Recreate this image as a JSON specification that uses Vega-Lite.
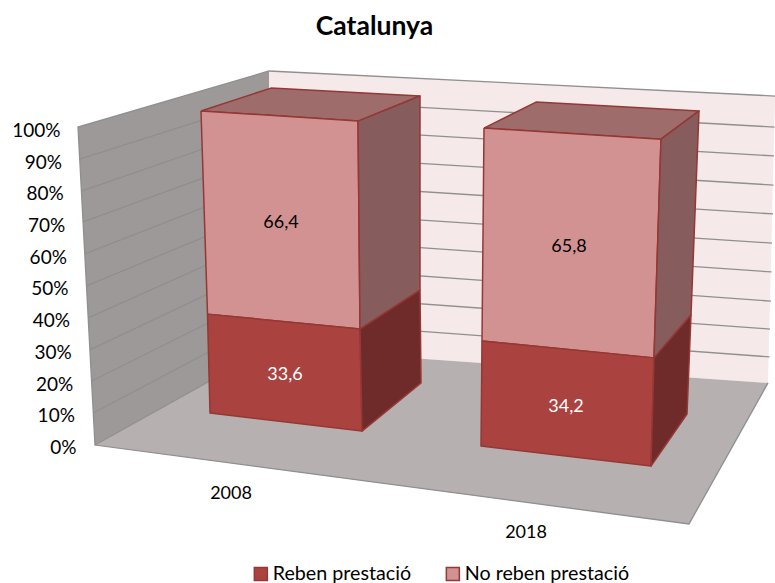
{
"$schema":"https://vega.github.io/schema/vega-lite/v6.json",
"width":775,"height":583,"padding":0,"autosize":{"type":"none"},
"background":"white",
"config":{"view":{"stroke":null},"font":"Lato"},
"title":{"text":"Catalunya","anchor":"middle","frame":"group","offset":-40,"dx":-13,"font":"Lato","fontSize":26.5,"fontWeight":"bold","color":"black"},
"datasets":{
"walls":[
{"poly":"esq","part":"Paret esquerra","n":1,"x":78,"y":100.6},{"poly":"esq","part":"Paret esquerra","n":2,"x":269,"y":118.3},{"poly":"esq","part":"Paret esquerra","n":3,"x":269,"y":30.9},{"poly":"esq","part":"Paret esquerra","n":4,"x":95,"y":0.3},
{"poly":"fons","part":"Paret fons","n":1,"x":269,"y":118.3},{"poly":"fons","part":"Paret fons","n":2,"x":775,"y":110.4},{"poly":"fons","part":"Paret fons","n":3,"x":768,"y":19.9},{"poly":"fons","part":"Paret fons","n":4,"x":269,"y":30.9},
{"poly":"terra","part":"Terra","n":1,"x":95,"y":0.3},{"poly":"terra","part":"Terra","n":2,"x":269,"y":30.9},{"poly":"terra","part":"Terra","n":3,"x":768,"y":19.9},{"poly":"terra","part":"Terra","n":4,"x":689,"y":-24.6}
],
"grid":[
{"l":"e10","n":1,"x":93.3,"y":10.4},{"l":"e10","n":2,"x":269,"y":39.7},{"l":"e20","n":1,"x":91.6,"y":20.5},{"l":"e20","n":2,"x":269,"y":48.3},
{"l":"e30","n":1,"x":89.9,"y":30.3},{"l":"e30","n":2,"x":269,"y":57.1},{"l":"e40","n":1,"x":88.2,"y":40.4},{"l":"e40","n":2,"x":269,"y":65.9},
{"l":"e50","n":1,"x":86.5,"y":50.5},{"l":"e50","n":2,"x":269,"y":74.4},{"l":"e60","n":1,"x":84.8,"y":60.6},{"l":"e60","n":2,"x":269,"y":83.3},
{"l":"e70","n":1,"x":83.1,"y":70.7},{"l":"e70","n":2,"x":269,"y":92.1},{"l":"e80","n":1,"x":81.4,"y":80.4},{"l":"e80","n":2,"x":269,"y":100.9},
{"l":"e90","n":1,"x":79.7,"y":90.5},{"l":"e90","n":2,"x":269,"y":109.5},
{"l":"f10","n":1,"x":269,"y":39.7},{"l":"f10","n":2,"x":769.5,"y":28.1},{"l":"f20","n":1,"x":269,"y":48.3},{"l":"f20","n":2,"x":770,"y":36.9},
{"l":"f30","n":1,"x":269,"y":57.1},{"l":"f30","n":2,"x":771,"y":45.7},{"l":"f40","n":1,"x":269,"y":65.9},{"l":"f40","n":2,"x":771.5,"y":54.9},
{"l":"f50","n":1,"x":269,"y":74.4},{"l":"f50","n":2,"x":772,"y":64},{"l":"f60","n":1,"x":269,"y":83.3},{"l":"f60","n":2,"x":773,"y":73.2},
{"l":"f70","n":1,"x":269,"y":92.1},{"l":"f70","n":2,"x":773.5,"y":82.3},{"l":"f80","n":1,"x":269,"y":100.9},{"l":"f80","n":2,"x":774,"y":91.5},
{"l":"f90","n":1,"x":269,"y":109.5},{"l":"f90","n":2,"x":774.5,"y":100.6},
{"l":"v1","n":1,"x":269,"y":118.3},{"l":"v1","n":2,"x":78,"y":100.6},{"l":"v1","n":3,"x":95,"y":0.3},{"l":"v1","n":4,"x":689,"y":-24.6},{"l":"v1","n":5,"x":768,"y":19.9},
{"l":"v2","n":1,"x":269,"y":118.3},{"l":"v2","n":2,"x":775,"y":110.4},
{"l":"v3","n":1,"x":95,"y":0.3},{"l":"v3","n":2,"x":269,"y":30.9}
],
"bars":[
{"poly":"a1","part":"No reben sostre","n":1,"x":201,"y":105.7},{"poly":"a1","part":"No reben sostre","n":2,"x":358,"y":102.5},{"poly":"a1","part":"No reben sostre","n":3,"x":420,"y":110.4},{"poly":"a1","part":"No reben sostre","n":4,"x":271,"y":112.9},{"poly":"a1","part":"No reben sostre","n":5,"x":201,"y":105.7},
{"poly":"a2","part":"No reben prestació","n":1,"x":201,"y":105.7},{"poly":"a2","part":"No reben prestació","n":2,"x":358,"y":102.5},{"poly":"a2","part":"No reben prestació","n":3,"x":360,"y":36.9},{"poly":"a2","part":"No reben prestació","n":4,"x":207.5,"y":41.6},{"poly":"a2","part":"No reben prestació","n":5,"x":201,"y":105.7},
{"poly":"a3","part":"No reben lateral","n":1,"x":358,"y":102.5},{"poly":"a3","part":"No reben lateral","n":2,"x":420,"y":110.4},{"poly":"a3","part":"No reben lateral","n":3,"x":420,"y":49.2},{"poly":"a3","part":"No reben lateral","n":4,"x":360,"y":36.9},{"poly":"a3","part":"No reben lateral","n":5,"x":358,"y":102.5},
{"poly":"a4","part":"Reben prestació","n":1,"x":207.5,"y":41.6},{"poly":"a4","part":"Reben prestació","n":2,"x":360,"y":36.9},{"poly":"a4","part":"Reben prestació","n":3,"x":362,"y":4.7},{"poly":"a4","part":"Reben prestació","n":4,"x":210,"y":10.4},{"poly":"a4","part":"Reben prestació","n":5,"x":207.5,"y":41.6},
{"poly":"a5","part":"Reben lateral","n":1,"x":360,"y":36.9},{"poly":"a5","part":"Reben lateral","n":2,"x":420,"y":49.2},{"poly":"a5","part":"Reben lateral","n":3,"x":421,"y":19.9},{"poly":"a5","part":"Reben lateral","n":4,"x":362,"y":4.7},{"poly":"a5","part":"Reben lateral","n":5,"x":360,"y":36.9},
{"poly":"b1","part":"No reben sostre","n":1,"x":484,"y":100.3},{"poly":"b1","part":"No reben sostre","n":2,"x":661,"y":96.8},{"poly":"b1","part":"No reben sostre","n":3,"x":699,"y":105.7},{"poly":"b1","part":"No reben sostre","n":4,"x":536,"y":108.5},{"poly":"b1","part":"No reben sostre","n":5,"x":484,"y":100.3},
{"poly":"b2","part":"No reben prestació","n":1,"x":484,"y":100.3},{"poly":"b2","part":"No reben prestació","n":2,"x":661,"y":96.8},{"poly":"b2","part":"No reben prestació","n":3,"x":654,"y":27.8},{"poly":"b2","part":"No reben prestació","n":4,"x":482,"y":33.1},{"poly":"b2","part":"No reben prestació","n":5,"x":484,"y":100.3},
{"poly":"b3","part":"No reben lateral","n":1,"x":661,"y":96.8},{"poly":"b3","part":"No reben lateral","n":2,"x":699,"y":105.7},{"poly":"b3","part":"No reben lateral","n":3,"x":691,"y":41.3},{"poly":"b3","part":"No reben lateral","n":4,"x":654,"y":27.8},{"poly":"b3","part":"No reben lateral","n":5,"x":661,"y":96.8},
{"poly":"b4","part":"Reben prestació","n":1,"x":482,"y":33.1},{"poly":"b4","part":"Reben prestació","n":2,"x":654,"y":27.8},{"poly":"b4","part":"Reben prestació","n":3,"x":651,"y":-6.3},{"poly":"b4","part":"Reben prestació","n":4,"x":481,"y":0},{"poly":"b4","part":"Reben prestació","n":5,"x":482,"y":33.1},
{"poly":"b5","part":"Reben lateral","n":1,"x":654,"y":27.8},{"poly":"b5","part":"Reben lateral","n":2,"x":691,"y":41.3},{"poly":"b5","part":"Reben lateral","n":3,"x":687,"y":10.1},{"poly":"b5","part":"Reben lateral","n":4,"x":651,"y":-6.3},{"poly":"b5","part":"Reben lateral","n":5,"x":654,"y":27.8}
],
"labels":[
{"text":"66,4","x":281,"y":70.7,"tone":"fosc"},{"text":"33,6","x":285,"y":23,"tone":"clar"},{"text":"65,8","x":569,"y":63.4,"tone":"fosc"},{"text":"34,2","x":566,"y":12.9,"tone":"clar"},
{"text":"2008","x":231,"y":-14.8,"tone":"fosc"},{"text":"2018","x":526,"y":-27.1,"tone":"fosc"}
]
},
"encoding":{
"x":{"field":"x","type":"quantitative","scale":{"domain":[0,775],"nice":false,"zero":false},"axis":null},
"y":{"field":"y","type":"quantitative","scale":{"domain":[-43.218,140.694],"nice":false,"zero":false},
"axis":{"values":[0,10,20,30,40,50,60,70,80,90,100],"labelExpr":"datum.value+'%'","title":null,"domain":false,"ticks":false,"grid":false,"labelPadding":-76,"labelOffset":1.5,"labelFont":"Lato","labelFontSize":19,"labelColor":"black","encoding":{"labels":{"dx":{"value":{"expr":"-0.16*datum.value"}}}}}}
},
"layer":[
{"data":{"name":"walls"},"mark":{"type":"line","strokeWidth":0,"stroke":"transparent"},
"encoding":{"order":{"field":"n","type":"ordinal"},"detail":{"field":"poly"},
"fill":{"field":"part","type":"nominal"}}},
{"data":{"name":"grid"},"mark":{"type":"line","stroke":"#8f8f8f","strokeWidth":1.3,"fill":null},
"encoding":{"order":{"field":"n","type":"ordinal"},"detail":{"field":"l"}}},
{"data":{"name":"bars"},"mark":{"type":"line","stroke":"#953735","strokeWidth":1.5,"strokeJoin":"round"},
"encoding":{"order":{"field":"n","type":"ordinal"},"detail":{"field":"poly"},
"fill":{"field":"part","type":"nominal",
"scale":{"domain":["Reben prestació","No reben prestació","Reben lateral","No reben lateral","No reben sostre","Paret esquerra","Paret fons","Terra"],"range":["#aa4340","#d39292","#6e2b2a","#875c5c","#9f6c6c","#9d9999","#f5e9e9","#b7b0b0"]},
"legend":{"values":["Reben prestació","No reben prestació"],"title":null,"orient":"none","legendX":251,"legendY":564,"direction":"horizontal","columns":2,"columnPadding":31,"symbolType":"square","symbolSize":169,"labelFont":"Lato","labelFontSize":19.7,"labelLimit":400,"labelColor":"black","labelOffset":2,"encoding":{"symbols":{"stroke":{"value":"#953735"},"strokeWidth":{"value":1.5}}}}}}},
{"data":{"name":"labels"},"mark":{"type":"text","font":"Lato","fontSize":18,"align":"center","baseline":"middle","dy":1.5},
"encoding":{"text":{"field":"text"},"color":{"field":"tone","type":"nominal","scale":{"domain":["fosc","clar"],"range":["black","white"]},"legend":null}}}
]
}
